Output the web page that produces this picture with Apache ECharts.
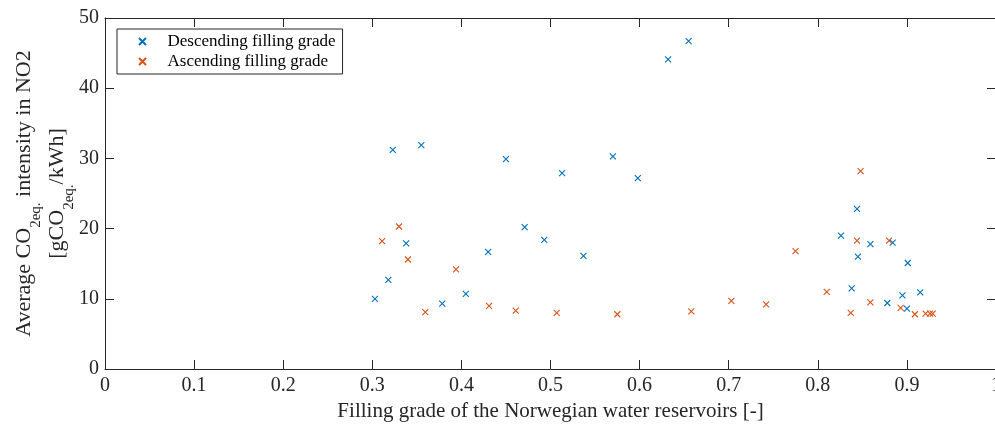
<!DOCTYPE html>
<html>
<head>
<meta charset="utf-8">
<script src="https://cdn.jsdelivr.net/npm/echarts@6/dist/echarts.min.js"></script>
<style>html,body{margin:0;padding:0;background:#fff}#c{width:995px;height:425px}</style>
</head>
<body>
<div id="c"></div>
<script>
const descX = [0.303,0.318,0.323,0.338,0.355,0.3785,0.405,0.430,0.450,0.471,0.493,0.513,0.537,0.570,0.598,0.632,0.655,0.826,0.838,0.844,0.845,0.859,0.878,0.884,0.895,0.900,0.901,0.915];
const descY = [10.0,12.7,31.2,17.9,31.9,9.3,10.7,16.7,29.9,20.2,18.4,27.9,16.1,30.3,27.2,44.1,46.7,19.0,11.5,22.8,16.0,17.8,9.4,18.0,10.5,8.6,15.1,10.9];
const ascX = [0.311,0.330,0.340,0.3595,0.394,0.431,0.461,0.507,0.575,0.658,0.703,0.742,0.775,0.810,0.837,0.844,0.848,0.859,0.880,0.893,0.909,0.921,0.926,0.929];
const ascY = [18.2,20.3,15.6,8.1,14.2,9.0,8.3,8.0,7.8,8.2,9.7,9.2,16.8,11.0,8.0,18.3,28.2,9.5,18.3,8.7,7.8,7.9,7.9,7.9];
const seriesNames = ['Descending filling grade', 'Ascending filling grade'];
const xTitle = 'Filling grade of the Norwegian water reservoirs [-]';

const FONT = '"Liberation Serif", "Times New Roman", serif';
const AX = '#262626';
const XPATH = 'path://M0,0L10,10M10,0L0,10';
const zip = (a, b) => a.map((v, i) => [v, b[i]]);

const chart = echarts.init(document.getElementById('c'), null, {renderer: 'canvas'});
const commonAxis = {
  axisLine: {show: true, onZero: false, lineStyle: {color: AX, width: 1}},
  axisTick: {show: true, inside: true, length: 9, lineStyle: {color: AX}},
  splitLine: {show: false}
};
chart.setOption({
  backgroundColor: '#fff',
  animation: false,
  grid: {left: 105, top: 18, width: 891, height: 351, outerBoundsMode: 'none', containLabel: false},
  legend: {
    orient: 'vertical', left: 117, top: 29,
    data: seriesNames,
    itemWidth: 40, itemHeight: 7, itemGap: 3,
    padding: [4, 7, 4, 21],
    borderColor: AX, borderWidth: 1, backgroundColor: '#fff',
    textStyle: {fontFamily: FONT, fontSize: 17, color: '#000', padding: [0, 0, 0, 0]}
  },
  xAxis: [
    Object.assign({}, commonAxis, {
      type: 'value', min: 0, max: 1, interval: 0.1, position: 'bottom',
      axisLabel: {color: AX, fontFamily: FONT, fontSize: 20, margin: 7, showMaxLabel: true,
        formatter: v => String(Math.round(v * 10) / 10)},
      name: xTitle, nameLocation: 'middle', nameGap: 32, nameMoveOverlap: false,
      nameTextStyle: {fontFamily: FONT, fontSize: 21, color: AX}
    }),
    Object.assign({}, commonAxis, {
      type: 'value', min: 0, max: 1, interval: 0.1, position: 'top',
      axisLabel: {show: false}
    })
  ],
  yAxis: [
    Object.assign({}, commonAxis, {
      type: 'value', min: 0, max: 50, interval: 10, position: 'left',
      axisLabel: {color: AX, fontFamily: FONT, fontSize: 20, margin: 6},
      name: 'Average CO{sub|2eq.} intensity in NO2\n[gCO{sub|2eq.}/kWh]',
      nameLocation: 'middle', nameRotate: 90, nameGap: 31, nameMoveOverlap: false,
      nameTextStyle: {
        fontFamily: FONT, fontSize: 22, color: AX, lineHeight: 33, align: 'center',
        rich: {sub: {fontFamily: FONT, fontSize: 15, color: AX, padding: [23, 0, 0, 0], lineHeight: 10}}
      }
    }),
    Object.assign({}, commonAxis, {
      type: 'value', min: 0, max: 50, interval: 10, position: 'right',
      axisLabel: {show: false}
    })
  ],
  series: [
    {name: seriesNames[0], type: 'scatter', xAxisIndex: 0, yAxisIndex: 0,
     symbol: XPATH, symbolSize: 6, symbolKeepAspect: true,
     itemStyle: {color: '#0072BD', borderColor: '#0072BD', borderWidth: 1.1, opacity: 1},
     data: zip(descX, descY)},
    {name: seriesNames[1], type: 'scatter', xAxisIndex: 0, yAxisIndex: 0,
     symbol: XPATH, symbolSize: 6, symbolKeepAspect: true,
     itemStyle: {color: '#D95319', borderColor: '#D95319', borderWidth: 1.1, opacity: 1},
     data: zip(ascX, ascY)}
  ]
});
</script>
</body>
</html>
